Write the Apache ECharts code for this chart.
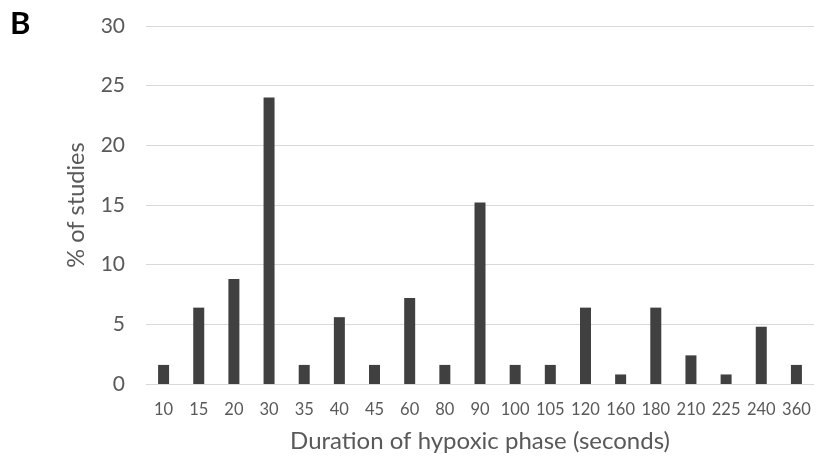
<!DOCTYPE html>
<html>
<head>
<meta charset="utf-8">
<script src="https://cdn.jsdelivr.net/npm/echarts@6/dist/echarts.min.js"></script>
<style>
  html, body { margin: 0; padding: 0; background: #fff; }
  #chart { width: 816px; height: 460px; }
</style>
</head>
<body>
<div id="chart"></div>
<script>
// durations (seconds) on the x axis
const durations = ['10', '15', '20', '30', '35', '40', '45', '60', '80', '90',
  '100', '105', '120', '160', '180', '210', '225', '240', '360'];
// % of studies per duration
const percentStudies = [1.6, 6.4, 8.8, 24.0, 1.6, 5.6, 1.6, 7.2, 1.6, 15.2,
  1.6, 1.6, 6.4, 0.8, 6.4, 2.4, 0.8, 4.8, 1.6];
const yTicks = [0, 5, 10, 15, 20, 25, 30];

const chart = echarts.init(document.getElementById('chart'));
const font = 'Lato, "Open Sans", sans-serif';

let option = {
  animation: false,
  textStyle: { fontFamily: font },
  graphic: [{
    type: 'text',
    left: 10,
    top: 8,
    style: { text: 'B', font: 'bold 31px ' + font, fill: '#000' }
  }],
  grid: { left: 146, right: 2, top: 26, bottom: 76 },
  xAxis: {
    type: 'category',
    data: durations,
    name: 'Duration of hypoxic phase (seconds)',
    nameLocation: 'middle',
    nameGap: 45,
    nameTextStyle: { color: '#595959', fontSize: 24 },
    axisLine: { lineStyle: { color: '#d9d9d9', width: 1 } },
    axisTick: { show: false },
    axisLabel: { color: '#595959', fontSize: 16.5, margin: 17, interval: 0 }
  },
  yAxis: {
    type: 'value',
    min: yTicks[0],
    max: yTicks[yTicks.length - 1],
    interval: 5,
    name: '% of studies',
    nameLocation: 'middle',
    nameGap: 58,
    nameTextStyle: { color: '#595959', fontSize: 23.5 },
    axisLine: { show: false },
    axisTick: { show: false },
    axisLabel: { color: '#595959', fontSize: 21, margin: 21 },
    splitLine: { lineStyle: { color: '#d9d9d9', width: 1 } }
  },
  series: [{
    type: 'bar',
    data: percentStudies,
    barWidth: 11,
    itemStyle: { color: '#404040' }
  }]
};

chart.setOption(option);
</script>
</body>
</html>
